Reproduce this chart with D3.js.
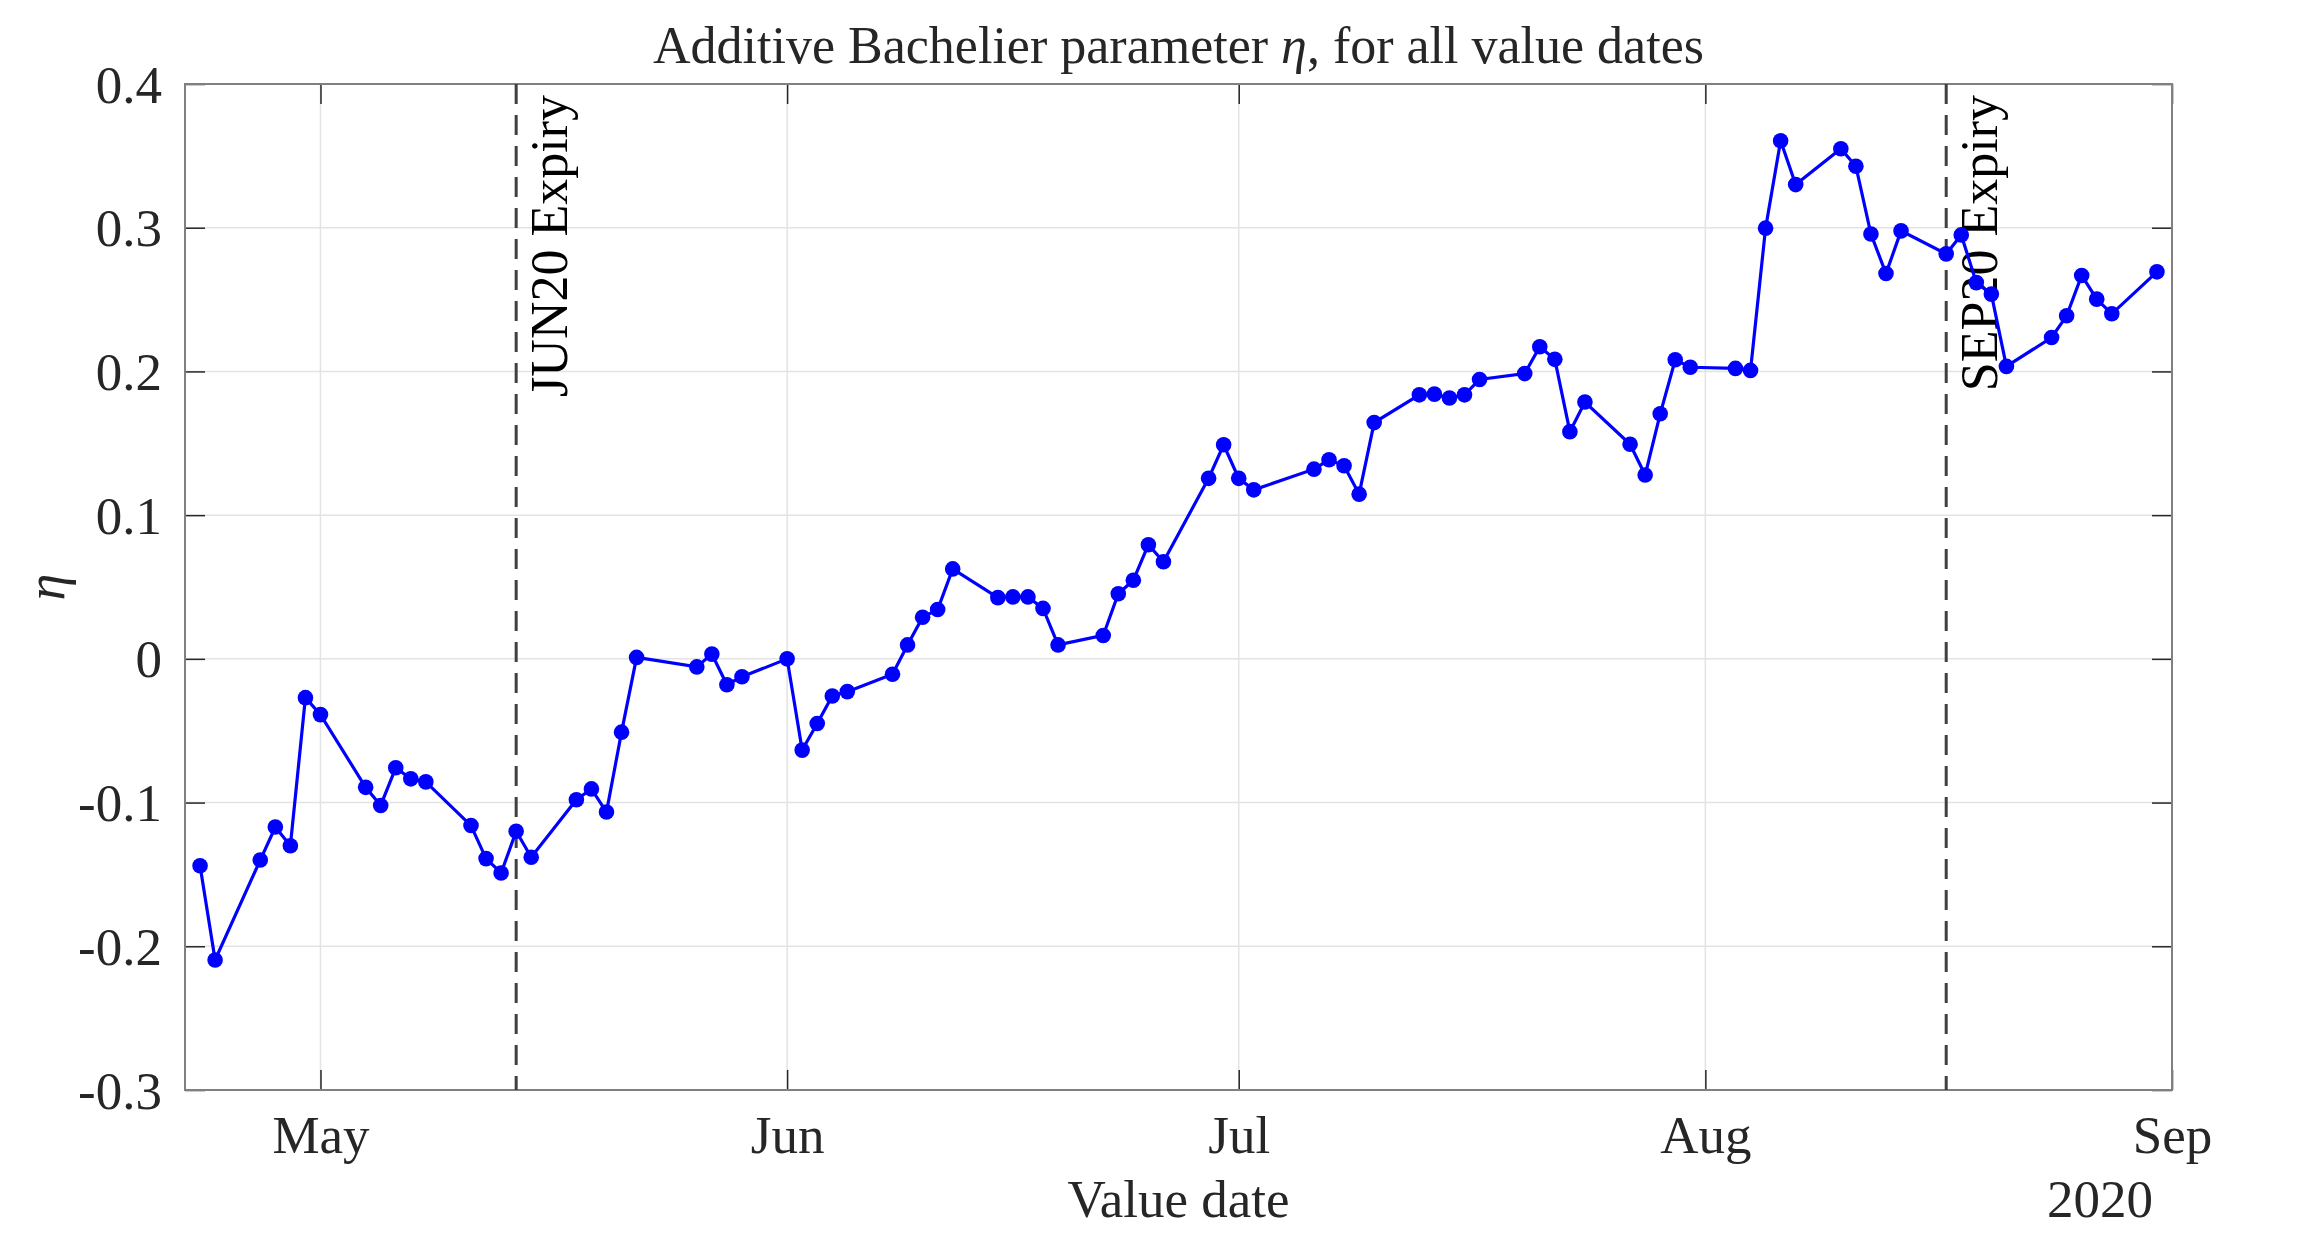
<!DOCTYPE html>
<html>
<head>
<meta charset="utf-8">
<script src="https://cdn.jsdelivr.net/npm/d3@7"></script>
<style>
  body { margin: 0; background: #fff; }
  svg text { font-family: "Liberation Serif", "Times New Roman", serif; }
</style>
</head>
<body>
<svg id="chart"></svg>
<script>
// value dates and fitted eta
var valueDates = [
  "2020-04-23","2020-04-24","2020-04-27","2020-04-28","2020-04-29","2020-04-30","2020-05-01",
  "2020-05-04","2020-05-05","2020-05-06","2020-05-07","2020-05-08",
  "2020-05-11","2020-05-12","2020-05-13","2020-05-14","2020-05-15",
  "2020-05-18","2020-05-19","2020-05-20","2020-05-21","2020-05-22",
  "2020-05-26","2020-05-27","2020-05-28","2020-05-29",
  "2020-06-01","2020-06-02","2020-06-03","2020-06-04","2020-06-05",
  "2020-06-08","2020-06-09","2020-06-10","2020-06-11","2020-06-12",
  "2020-06-15","2020-06-16","2020-06-17","2020-06-18","2020-06-19",
  "2020-06-22","2020-06-23","2020-06-24","2020-06-25","2020-06-26",
  "2020-06-29","2020-06-30","2020-07-01","2020-07-02",
  "2020-07-06","2020-07-07","2020-07-08","2020-07-09","2020-07-10",
  "2020-07-13","2020-07-14","2020-07-15","2020-07-16","2020-07-17",
  "2020-07-20","2020-07-21","2020-07-22","2020-07-23","2020-07-24",
  "2020-07-27","2020-07-28","2020-07-29","2020-07-30","2020-07-31",
  "2020-08-03","2020-08-04","2020-08-05","2020-08-06","2020-08-07",
  "2020-08-10","2020-08-11","2020-08-12","2020-08-13","2020-08-14",
  "2020-08-17","2020-08-18","2020-08-19","2020-08-20","2020-08-21",
  "2020-08-24","2020-08-25","2020-08-26","2020-08-27","2020-08-28",
  "2020-08-31"
];
var etaValues = [
  -0.144,-0.2095,-0.140,-0.117,-0.130,-0.027,-0.0388,
  -0.0894,-0.102,-0.0758,-0.0835,-0.0856,
  -0.116,-0.139,-0.149,-0.120,-0.138,
  -0.098,-0.0905,-0.1066,-0.051,0.001,
  -0.0056,0.0033,-0.018,-0.0125,
  0.000,-0.0635,-0.045,-0.0258,-0.0228,
  -0.0107,0.0097,0.029,0.0343,0.0626,
  0.0426,0.0431,0.0431,0.0351,0.0097,
  0.0163,0.0453,0.0547,0.0794,0.0676,
  0.1256,0.149,0.1256,0.1176,
  0.132,0.1385,0.1344,0.1146,0.1644,
  0.1837,0.1842,0.1815,0.1837,0.1944,
  0.1985,0.2172,0.2084,0.1581,0.1787,
  0.1493,0.1279,0.1705,0.2081,0.2029,
  0.2021,0.2007,0.2997,0.3605,0.330,
  0.3549,0.3428,0.2956,0.2681,0.2978,
  0.2818,0.2950,0.2618,0.2538,0.2035,
  0.2236,0.2387,0.2668,0.2503,0.2401,
  0.2693
];
var expiryDates = ["2020-05-14", "2020-08-17"];
var expiryLabels = ["JUN20 Expiry", "SEP20 Expiry"];
var monthTicks = ["2020-05-01","2020-06-01","2020-07-01","2020-08-01","2020-09-01"];
var yTicks = [-0.3, -0.2, -0.1, 0, 0.1, 0.2, 0.3, 0.4];
var xStart = "2020-04-22", xEnd = "2020-09-01";

var parse = d3.timeParse("%Y-%m-%d");
var W = 2297, H = 1240;
var margin = {top: 84, right: 125, bottom: 150, left: 185};
var width = W - margin.left - margin.right,
    height = H - margin.top - margin.bottom;

var data = valueDates.map(function (d, i) { return {date: parse(d), eta: etaValues[i]}; });

var x = d3.scaleTime()
    .domain([parse(xStart), parse(xEnd)])
    .range([0, width]);
var y = d3.scaleLinear()
    .domain([-0.3, 0.4])
    .range([height, 0]);

var svg = d3.select("#chart")
    .attr("width", W)
    .attr("height", H)
  .append("g")
    .attr("transform", "translate(" + margin.left + "," + margin.top + ")");

// grid
svg.append("g").selectAll("line")
    .data(yTicks)
    .enter().append("line")
    .attr("x1", 0).attr("x2", width)
    .attr("y1", function (d) { return y(d); })
    .attr("y2", function (d) { return y(d); })
    .attr("stroke", "#e3e3e3").attr("stroke-width", 1.5);
svg.append("g").selectAll("line")
    .data(monthTicks.map(parse))
    .enter().append("line")
    .attr("y1", 0).attr("y2", height)
    .attr("x1", function (d) { return x(d); })
    .attr("x2", function (d) { return x(d); })
    .attr("stroke", "#e3e3e3").attr("stroke-width", 1.5);

// axes, ticks pointing inward like matlab
var fmt = d3.timeFormat("%b");
var xAxis = svg.append("g")
    .attr("transform", "translate(0," + height + ")")
    .call(d3.axisBottom(x).tickValues(monthTicks.map(parse)).tickFormat(fmt).tickSize(-20).tickPadding(27));
var xTop = svg.append("g")
    .call(d3.axisTop(x).tickValues(monthTicks.map(parse)).tickFormat("").tickSize(-20));
var yAxis = svg.append("g")
    .call(d3.axisLeft(y).tickValues(yTicks).tickFormat(function (d) { return d3.format(".1f")(d).replace("0.0", "0").replace("−", "-"); }).tickSize(-20).tickPadding(23));
var yRight = svg.append("g")
    .attr("transform", "translate(" + width + ",0)")
    .call(d3.axisRight(y).tickValues(yTicks).tickFormat("").tickSize(-20));

[xAxis, xTop, yAxis, yRight].forEach(function (a) {
  a.select(".domain").remove();
  a.selectAll(".tick line").attr("stroke", "#262626").attr("stroke-width", 1.5);
  a.selectAll(".tick text").attr("fill", "#262626").style("font-size", "53px");
});
yAxis.selectAll(".tick text").attr("dy", "0.34em");
xAxis.selectAll(".tick text").attr("dy", "0.68em");

// box
svg.append("rect")
    .attr("width", width).attr("height", height)
    .attr("fill", "none").attr("stroke", "#808080").attr("stroke-width", 2);

// expiry markers
expiryDates.forEach(function (d, i) {
  var ex = x(parse(d));
  svg.append("line")
      .attr("x1", ex).attr("x2", ex)
      .attr("y1", 0).attr("y2", height)
      .attr("stroke", "#404040").attr("stroke-width", 3)
      .attr("stroke-dasharray", "20,11");
  svg.append("text")
      .attr("transform", "translate(" + (ex + 51) + ",11) rotate(-90)")
      .attr("text-anchor", "end")
      .attr("fill", "#000")
      .style("font-size", "52px")
      .text(expiryLabels[i]);
});

// the series
var line = d3.line()
    .x(function (d) { return x(d.date); })
    .y(function (d) { return y(d.eta); });
svg.append("path")
    .datum(data)
    .attr("fill", "none")
    .attr("stroke", "#0000ff")
    .attr("stroke-width", 3.2)
    .attr("d", line);
svg.selectAll(".pt")
    .data(data)
    .enter().append("circle")
    .attr("class", "pt")
    .attr("cx", function (d) { return x(d.date); })
    .attr("cy", function (d) { return y(d.eta); })
    .attr("r", 7.8)
    .attr("fill", "#0000ff");

// titles
var title = svg.append("text")
    .attr("x", width / 2).attr("y", 63 - margin.top)
    .attr("text-anchor", "middle")
    .attr("fill", "#262626")
    .style("font-size", "52px");
title.append("tspan").text("Additive Bachelier parameter ");
title.append("tspan").style("font-style", "italic").text("η");
title.append("tspan").text(", for all value dates");

svg.append("text")
    .attr("x", width / 2).attr("y", 1217 - margin.top)
    .attr("text-anchor", "middle")
    .attr("fill", "#262626")
    .style("font-size", "53px")
    .text("Value date");

svg.append("text")
    .attr("x", 2153 - margin.left).attr("y", 1217 - margin.top)
    .attr("text-anchor", "end")
    .attr("fill", "#262626")
    .style("font-size", "53px")
    .text("2020");

svg.append("text")
    .attr("transform", "translate(" + (64 - margin.left) + "," + (height / 2) + ") rotate(-90)")
    .attr("text-anchor", "middle")
    .attr("fill", "#262626")
    .style("font-size", "54px")
    .style("font-style", "italic")
    .text("η");
</script>
</body>
</html>
